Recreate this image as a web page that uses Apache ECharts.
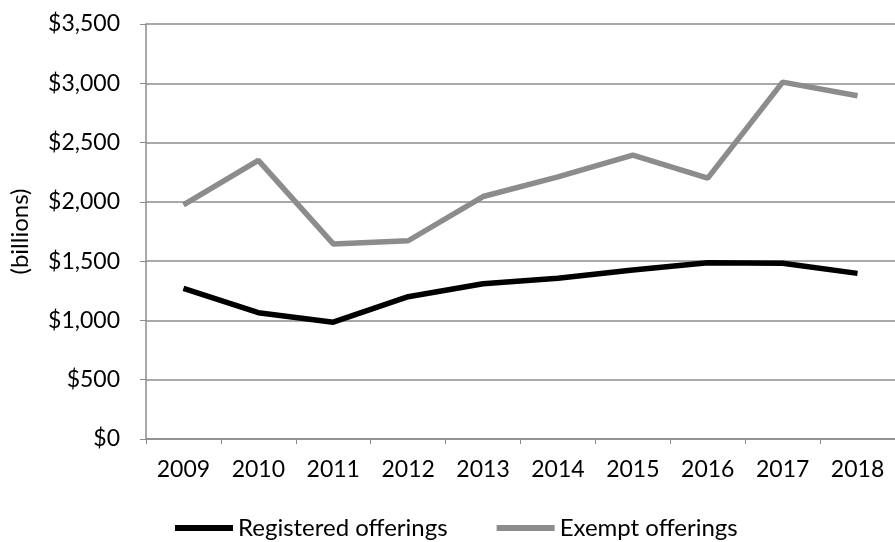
<!DOCTYPE html>
<html>
<head>
<meta charset="utf-8">
<script src="https://cdn.jsdelivr.net/npm/echarts@6/dist/echarts.min.js"></script>
<style>html,body{margin:0;padding:0;background:#fff}#c{width:895px;height:542px}</style>
</head>
<body>
<div id="c"></div>
<script>
const years = ['2009','2010','2011','2012','2013','2014','2015','2016','2017','2018'];
const registered = [1270, 1065, 985, 1200, 1310, 1355, 1425, 1487, 1482, 1397];
const exempt = [1975, 2350, 1645, 1672, 2045, 2210, 2395, 2200, 3010, 2895];
const seriesNames = ['Registered offerings', 'Exempt offerings'];

const font = 'Lato, "Open Sans", sans-serif';
const chart = echarts.init(document.getElementById('c'));
chart.setOption({
  animation: false,
  backgroundColor: '#fff',
  grid: { left: 145, top: 24, bottom: 103, right: -9, containLabel: false },
  legend: {
    bottom: -3, left: 170,
    itemWidth: 58, itemHeight: 6, itemGap: 49,
    icon: 'rect',
    textStyle: { fontFamily: font, fontSize: 24, color: '#000' },
    data: seriesNames
  },
  xAxis: {
    type: 'category', data: years, boundaryGap: true,
    axisLine: { lineStyle: { color: '#8c8c8c', width: 1.5 } },
    axisTick: { show: true, length: 5, lineStyle: { color: '#8c8c8c' } },
    axisLabel: { fontFamily: font, fontSize: 23, color: '#000', margin: 19 },
    splitLine: { show: false }
  },
  yAxis: {
    type: 'value', min: 0, max: 3500, interval: 500,
    name: '(billions)', nameLocation: 'middle', nameGap: 114, nameRotate: 90,
    nameTextStyle: { fontFamily: font, fontSize: 24, color: '#000' },
    axisLine: { show: true, lineStyle: { color: '#8c8c8c', width: 1.5 } },
    axisTick: { show: true, length: 6, lineStyle: { color: '#8c8c8c' } },
    axisLabel: {
      fontFamily: font, fontSize: 23, color: '#000', margin: 26,
      formatter: v => '$' + v.toLocaleString('en-US')
    },
    splitLine: { show: true, lineStyle: { color: '#8c8c8c', width: 1.5 } }
  },
  series: [
    { name: seriesNames[0], type: 'line', data: registered, symbol: 'none',
      itemStyle: { color: '#000' }, lineStyle: { color: '#000', width: 5.5 } },
    { name: seriesNames[1], type: 'line', data: exempt, symbol: 'none',
      itemStyle: { color: '#8c8c8c' }, lineStyle: { color: '#8c8c8c', width: 5.5 } }
  ]
});
</script>
</body>
</html>
